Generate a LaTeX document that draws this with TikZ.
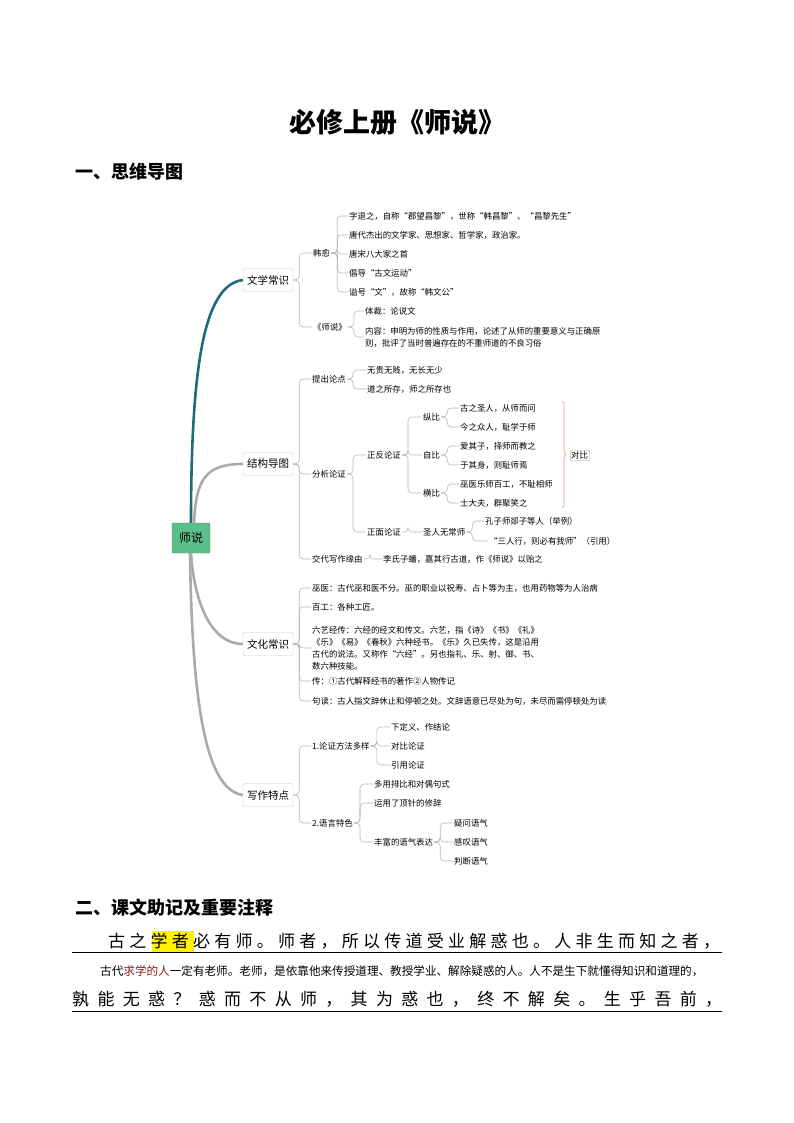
\documentclass[tikz,border=0pt]{standalone}
\usepackage{fontspec}
\setmainfont{Noto Sans CJK SC}
\usetikzlibrary{decorations.pathreplacing}
\definecolor{teal}{HTML}{1F6B7E}
\definecolor{branchgray}{HTML}{AAAAAA}
\definecolor{linkgray}{HTML}{B5B5B5}
\definecolor{rootgreen}{HTML}{5CBF8A}
\definecolor{boxline}{HTML}{B9CAD2}
\definecolor{redbrown}{HTML}{8B1A1A}
\tikzset{
	item/.style={anchor=west,inner sep=1pt,font=\fontsize{8.4}{12}\selectfont,align=left},
	branch/.style={draw=boxline,fill=white,rounded corners=2pt,inner sep=4pt,minimum height=23pt,font=\fontsize{10.5}{12}\selectfont},
	link/.style={draw=linkgray,line width=0.6pt,rounded corners=4pt},
}
\newcommand{\mmlink}[2]{\draw[link] (#1.east) -- ++(6,0) |- (#2.west);}
\begin{document}
\begin{tikzpicture}[x=1pt,y=-1pt]
	\useasboundingbox (0,0) rectangle (794,1123);
	%title and headings
	\node (title) at (397,122) {\fontsize{27}{30}\selectfont\bfseries 必修上册《师说》};
	\node[anchor=west] (head1) at (72,172) {\fontsize{18}{20}\selectfont\bfseries 一、思维导图};
	\node[anchor=west] (head2) at (72,908) {\fontsize{18}{20}\selectfont\bfseries 二、课文助记及重要注释};
	
	%root and main branches
	\node[draw=rootgreen!80!black,fill=rootgreen,rounded corners=1pt,minimum width=38pt,minimum height=30pt,font=\fontsize{12}{14}\selectfont] (root) at (191,538) {师说};
	\node[branch] (wxcs) at (268,280) {文学常识};
	\node[branch] (jgdt) at (268,464) {结构导图};
	\node[branch] (whcs) at (268,644) {文化常识};
	\node[branch] (xztd) at (268,795) {写作特点};
	\draw[teal,line width=2.6pt] (root.north) .. controls (191,360) and (205,285) .. (wxcs.west);
	\draw[branchgray,line width=2.6pt] (root.north) ++(3,0) .. controls (196,480) and (205,464) .. (jgdt.west);
	\draw[branchgray,line width=2.6pt] (root.south) .. controls (194,600) and (210,644) .. (whcs.west);
	\draw[branchgray,line width=2.6pt] (root.south) ++(-1,0) .. controls (192,700) and (205,790) .. (xztd.west);
	
	%文学常识
	\node[item] (hy) at (312,253) {韩愈};
	\node[item] (hy1) at (348,216) {字退之，自称“郡望昌黎”，世称“韩昌黎”、“昌黎先生”};
	\node[item] (hy2) at (348,235) {唐代杰出的文学家、思想家、哲学家，政治家。};
	\node[item] (hy3) at (348,254) {唐宋八大家之首};
	\node[item] (hy4) at (348,273) {倡导“古文运动”};
	\node[item] (hy5) at (348,292) {谥号“文”，故称“韩文公”};
	\node[item] (ss) at (312,327) {《师说》};
	\node[item] (ss1) at (364,311) {体裁：论说文};
	\node[item] (ss2) at (364,337) {内容：申明为师的性质与作用，论述了从师的重要意义与正确原\\则，批评了当时普遍存在的不重师道的不良习俗};
	\foreach \c in {hy,ss}{\mmlink{wxcs}{\c}}
	\foreach \c in {hy1,hy2,hy3,hy4,hy5}{\mmlink{hy}{\c}}
	\foreach \c in {ss1,ss2}{\mmlink{ss}{\c}}
	
	%结构导图
	\node[item] (tclc) at (311,379) {提出论点};
	\node[item] (tc1) at (366,370) {无贵无贱，无长无少};
	\node[item] (tc2) at (366,389) {道之所存，师之所存也};
	\node[item] (fxlz) at (311,474) {分析论证};
	\node[item] (zflz) at (366,455) {正反论证};
	\node[item] (zb) at (422,417) {纵比};
	\node[item] (zib) at (422,455) {自比};
	\node[item] (hb) at (422,493) {横比};
	\node[item] (zb1) at (459,408) {古之圣人，从师而问};
	\node[item] (zb2) at (459,427) {今之众人，耻学于师};
	\node[item] (zib1) at (459,446) {爱其子，择师而教之};
	\node[item] (zib2) at (459,465) {于其身，则耻师焉};
	\node[item] (hb1) at (459,484) {巫医乐师百工，不耻相师};
	\node[item] (hb2) at (459,503) {士大夫，群聚笑之};
	\node[item] (zmlz) at (366,532) {正面论证};
	\node[item] (srws) at (422,532) {圣人无常师};
	\node[item] (sr1) at (484,521) {孔子师郯子等人（举例）};
	\node[item] (sr2) at (488,541) {“三人行，则必有我师”（引用）};
	\node[item] (jdxz) at (311,559) {交代写作缘由};
	\node[item] (jd1) at (382,559) {李氏子蟠，嘉其行古道，作《师说》以贻之};
	\foreach \c in {tclc,fxlz,jdxz}{\mmlink{jgdt}{\c}}
	\foreach \c in {tc1,tc2}{\mmlink{tclc}{\c}}
	\foreach \c in {zflz,zmlz}{\mmlink{fxlz}{\c}}
	\foreach \c in {zb,zib,hb}{\mmlink{zflz}{\c}}
	\foreach \c in {zb1,zb2}{\mmlink{zb}{\c}}
	\foreach \c in {zib1,zib2}{\mmlink{zib}{\c}}
	\foreach \c in {hb1,hb2}{\mmlink{hb}{\c}}
	\mmlink{zmlz}{srws}
	\foreach \c in {sr1,sr2}{\mmlink{srws}{\c}}
	\mmlink{jdxz}{jd1}
	\draw[draw=red!35!brown!60,line width=0.6pt,decorate,decoration={brace,amplitude=4pt}] (562,401) -- (562,508);
	\node[item,draw=black!15] (db) at (570,455) {对比};
	
	%文化常识
	\node[item] (wy) at (311,588) {巫医：古代巫和医不分。巫的职业以祝寿、占卜等为主，也用药物等为人治病};
	\node[item] (bg) at (311,607) {百工：各种工匠。};
	\node[item] (ly) at (311,648) {六艺经传：六经的经文和传文。六艺，指《诗》《书》《礼》\\《乐》《易》《春秋》六种经书。《乐》久已失传，这是沿用\\古代的说法。又称作“六经”。另也指礼、乐、射、御、书、\\数六种技能。};
	\node[item] (zhuan) at (311,681) {传：①古代解释经书的著作②人物传记};
	\node[item] (jd) at (311,701) {句读：古人指文辞休止和停顿之处。文辞语意已尽处为句，未尽而需停顿处为读};
	\foreach \c in {wy,bg,ly,zhuan,jd}{\mmlink{whcs}{\c}}
	
	%写作特点
	\node[item] (lz) at (311,746) {1.论证方法多样};
	\node[item] (lz1) at (390,727) {下定义、作结论};
	\node[item] (lz2) at (390,746) {对比论证};
	\node[item] (lz3) at (390,765) {引用论证};
	\node[item] (yy) at (311,823) {2.语言特色};
	\node[item] (yy1) at (373,784) {多用排比和对偶句式};
	\node[item] (yy2) at (373,803) {运用了顶针的修辞};
	\node[item] (yy3) at (373,842) {丰富的语气表达};
	\node[item] (yq1) at (453,823) {疑问语气};
	\node[item] (yq2) at (453,842) {感叹语气};
	\node[item] (yq3) at (453,861) {判断语气};
	\foreach \c in {lz,yy}{\mmlink{xztd}{\c}}
	\foreach \c in {lz1,lz2,lz3}{\mmlink{lz}{\c}}
	\foreach \c in {yy1,yy2,yy3}{\mmlink{yy}{\c}}
	\foreach \c in {yq1,yq2,yq3}{\mmlink{yy3}{\c}}
	
	%passage
	\fill[yellow] (152,931) rectangle (194,952);
	\node[anchor=west,inner sep=0pt,text width=612pt,font=\fontsize{17}{18}\selectfont] (line1) at (108,941) {古\hfill 之\hfill 学\hfill 者\hfill 必\hfill 有\hfill 师\hfill 。\hfill 师\hfill 者\hfill ，\hfill 所\hfill 以\hfill 传\hfill 道\hfill 受\hfill 业\hfill 解\hfill 惑\hfill 也\hfill 。\hfill 人\hfill 非\hfill 生\hfill 而\hfill 知\hfill 之\hfill 者\hfill ，};
	\draw[line width=0.8pt] (72,952) -- (722,952);
	\node[anchor=west,inner sep=0pt,font=\fontsize{11.6}{13}\selectfont] (note1) at (100,971) {古代\textcolor{redbrown}{求学的人}一定有老师。老师，是依靠他来传授道理、教授学业、解除疑惑的人。人不是生下就懂得知识和道理的，};
	\node[anchor=west,inner sep=0pt,text width=650pt,font=\fontsize{17}{18}\selectfont] (line2) at (72,999) {孰\hfill 能\hfill 无\hfill 惑\hfill ？\hfill 惑\hfill 而\hfill 不\hfill 从\hfill 师\hfill ，\hfill 其\hfill 为\hfill 惑\hfill 也\hfill ，\hfill 终\hfill 不\hfill 解\hfill 矣\hfill 。\hfill 生\hfill 乎\hfill 吾\hfill 前\hfill ，};
	\draw[line width=0.8pt] (72,1011) -- (722,1011);
\end{tikzpicture}
\end{document}
